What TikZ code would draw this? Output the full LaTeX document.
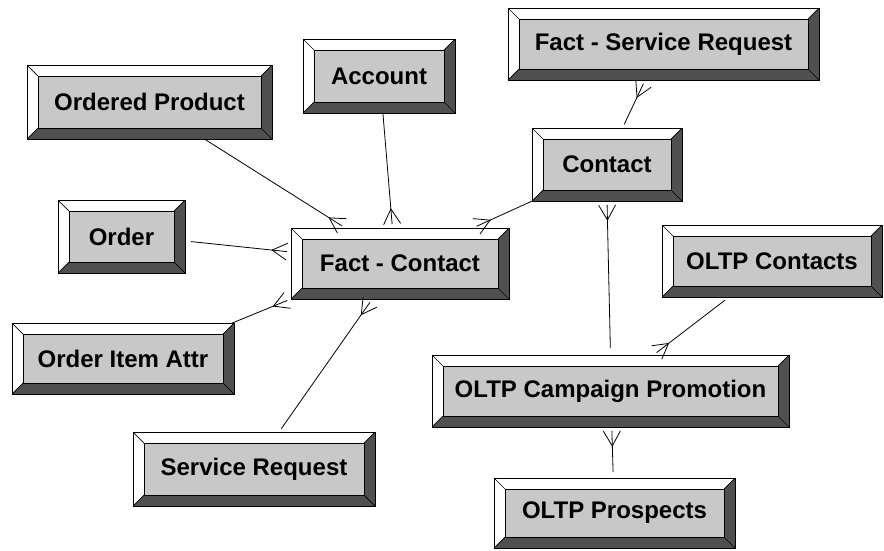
\documentclass[tikz,border=0pt]{standalone}
\usepackage{fontspec}
\setmainfont{Liberation Sans}
\usepackage{tikz}
\usetikzlibrary{calc}
\definecolor{facegrey}{RGB}{200,200,200}
\definecolor{bevdark}{RGB}{80,80,80}
\newcommand{\bev}{11pt}
\tikzset{
  btn/.style={rectangle, draw=black, line width=1pt, fill=facegrey, inner sep=0pt, outer sep=0pt, minimum height=73pt, font=\fontsize{24}{28}\selectfont\bfseries,
    path picture={
      \coordinate (bNW) at (path picture bounding box.north west);
      \coordinate (bNE) at (path picture bounding box.north east);
      \coordinate (bSE) at (path picture bounding box.south east);
      \coordinate (bSW) at (path picture bounding box.south west);
      \coordinate (inw) at ($(bNW)+(\bev,-\bev)$);
      \coordinate (ine) at ($(bNE)+(-\bev,-\bev)$);
      \coordinate (ise) at ($(bSE)+(-\bev,\bev)$);
      \coordinate (isw) at ($(bSW)+(\bev,\bev)$);
      \fill[white] (bNW) -- (bNE) -- (ine) -- (inw) -- (isw) -- (bSW) -- cycle;
      \fill[bevdark] (bSE) -- (bSW) -- (isw) -- (ise) -- (ine) -- (bNE) -- cycle;
      \draw[line width=0.7pt] (inw) rectangle (ise);
      \draw[line width=0.7pt] (bNW) -- (inw) (bNE) -- (ine) (bSW) -- (isw) (bSE) -- (ise);
    }},
  link/.style={line width=0.8pt, color=black}
}
% one end -> many end, crow's foot at the second node
\newcommand{\crowlink}[3][0pt]{%
  \draw[link, shorten <=#1, shorten >=4pt] (#2) -- (#3);
  \coordinate (cf-t) at ($(#3)!4pt!(#2)$);
  \coordinate (cf-c) at ($(#3)!19pt!(#2)$);
  \draw[link] ($(cf-t)!8.5pt!90:(#2)$) -- (cf-c) -- ($(cf-t)!8.5pt!-90:(#2)$);
}

\begin{document}
\begin{tikzpicture}[x=1pt, y=-1pt]
  \useasboundingbox (0,0) rectangle (884,550);

  \node[btn, minimum width=245pt, minimum height=74pt] (ordprod) at (149.5,102) {Ordered Product};
  \node[btn, minimum width=152pt, minimum height=74pt] (account) at (379,76) {Account};
  \node[btn, minimum width=127pt] (order) at (121.5,236.5) {Order};
  \node[btn, minimum width=218pt, minimum height=71pt] (factcontact) at (400,263.5) {Fact - Contact};
  \node[btn, minimum width=222pt, minimum height=71pt] (orderitem) at (123,358.5) {Order Item Attr};
  \node[btn, minimum width=242pt, minimum height=74pt] (servreq) at (254,469) {Service Request};
  \node[btn, minimum width=311pt, minimum height=72pt] (factsr) at (663.5,44) {Fact - Service Request};
  \node[btn, minimum width=150pt] (contact) at (607,164.5) {Contact};
  \node[btn, minimum width=220pt, minimum height=72pt] (oltpcontacts) at (772,261) {OLTP Contacts};
  \node[btn, minimum width=357pt, minimum height=72pt] (campaign) at (610.5,391) {OLTP Campaign Promotion};
  \node[btn, minimum width=241pt, minimum height=70pt] (prospects) at (614.5,513) {OLTP Prospects};

  \crowlink{ordprod.-34}{factcontact.147}
  \crowlink{account.-84}{factcontact.102}
  \crowlink{contact.-154}{factcontact.26}
  \crowlink[6pt]{order.-4.5}{factcontact.174}
  \crowlink{orderitem.18}{factcontact.-162}
  \crowlink[4pt]{servreq.56}{factcontact.-128}
  \crowlink[4pt]{contact.67}{factsr.-117}
  \crowlink[7pt]{campaign.90}{contact.-90}
  \crowlink[5pt]{oltpcontacts.-140}{campaign.40}
  \crowlink[6pt]{prospects.92}{campaign.-88}
\end{tikzpicture}
\end{document}
